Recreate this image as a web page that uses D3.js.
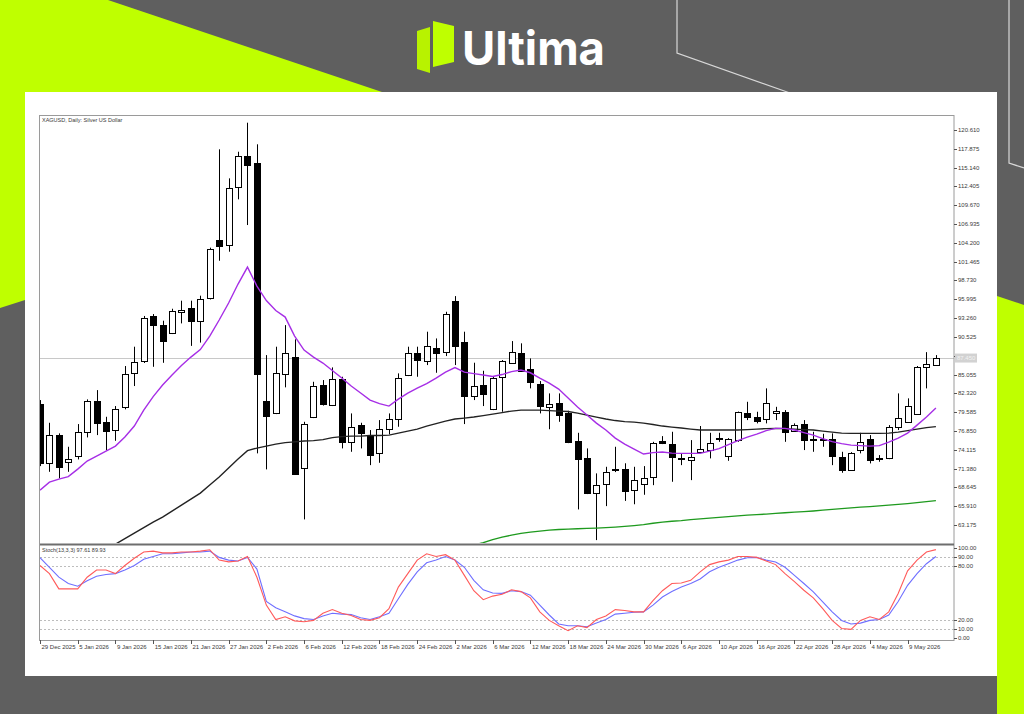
<!DOCTYPE html>
<html lang="en">
<head>
<meta charset="UTF-8">
<title>XAGUSD Daily</title>
<script src="https://d3js.org/d3.v7.min.js"></script>
<style>
  body { margin: 0; background: #5f5f5f; }
  svg { display: block; }
  .lbl { font-family: "Liberation Sans", Arial, sans-serif; font-size: 6px; fill: #3a3a3a; }
</style>
</head>
<body>
<svg width="1024" height="714"></svg>
<script>
// ---- data ----
const xLabels = ['29 Dec 2025','5 Jan 2026','9 Jan 2026','15 Jan 2026','21 Jan 2026','27 Jan 2026',
  '2 Feb 2026','6 Feb 2026','12 Feb 2026','18 Feb 2026','24 Feb 2026','2 Mar 2026','6 Mar 2026',
  '12 Mar 2026','18 Mar 2026','24 Mar 2026','30 Mar 2026','6 Apr 2026','10 Apr 2026','16 Apr 2026',
  '22 Apr 2026','28 Apr 2026','4 May 2026','9 May 2026'];
const labelEvery = 4; // one date label every 4 bars

const priceTicks = ['120.610','117.875','115.140','112.405','109.670','106.935','104.200','101.465',
  '98.730','95.995','93.260','90.525','87.790','85.055','82.320','79.585','76.850','74.115',
  '71.380','68.645','65.910','63.175'];
const stochTicks = ['100.00','90.00','80.00','20.00','10.00','0.00'];
const stochLevels = [90, 80, 20, 10];
const lastPrice = 87.45;

const opens = [80.76,72.18,76.25,72.28,73.19,76.73,81.24,78.18,76.87,80.28,
  85.37,86.92,93.61,92.30,91.09,94.19,94.67,92.88,96.19,104.61,
  103.88,112.27,116.83,115.85,81.24,79.40,85.12,87.64,71.40,78.82,
  83.52,80.61,84.35,75.27,77.70,76.10,73.59,77.12,78.58,84.98,
  88.22,87.06,88.95,88.37,95.78,89.82,81.92,83.52,79.99,84.73,
  86.82,88.22,85.80,83.62,80.36,80.86,79.40,75.37,72.86,67.77,
  69.22,71.30,71.30,68.25,69.12,70.18,75.37,74.94,72.90,72.71,
  73.67,74.07,75.85,73.19,75.52,79.49,78.91,78.53,79.40,79.64,
  76.83,77.80,75.66,75.66,75.62,73.09,71.26,74.17,75.62,72.90,
  72.86,77.37,78.18,79.40,86.18,86.43];
const highs = [81.34,78.04,76.50,74.55,77.85,81.44,82.79,78.91,80.47,86.29,
  89.10,93.57,93.85,92.88,94.62,95.79,95.79,96.52,103.50,117.80,
  113.58,117.45,121.67,118.53,87.88,89.10,92.24,90.17,78.18,84.00,
  84.25,86.09,84.73,79.40,78.04,76.98,78.43,79.40,85.22,89.10,
  89.10,91.28,90.30,94.18,96.46,91.28,86.77,85.60,84.73,87.16,
  89.92,89.59,87.40,84.10,82.31,82.31,79.78,76.58,74.31,70.68,
  71.64,74.55,72.15,71.64,71.74,75.27,76.10,76.73,73.59,75.52,
  77.57,76.58,76.58,75.81,79.67,81.09,79.64,83.04,80.36,79.88,
  77.95,78.43,76.73,76.44,76.50,73.82,73.77,76.58,76.25,73.34,
  77.70,82.31,81.59,86.29,88.31,87.88];
const lows = [71.74,70.91,69.95,70.91,72.71,75.91,76.25,74.07,75.42,79.99,
  83.38,86.73,86.18,86.76,90.94,92.49,89.22,89.70,95.97,101.60,
  102.91,110.53,106.79,73.59,71.26,79.30,83.19,70.58,63.99,78.72,
  80.54,80.47,74.31,73.82,74.31,71.88,72.22,76.39,77.46,84.83,
  84.73,86.43,85.31,87.74,86.43,77.85,81.34,80.47,79.88,79.64,
  86.73,85.48,83.04,79.40,77.10,78.18,75.08,65.44,67.67,60.98,
  65.92,70.87,66.68,66.19,67.57,68.97,74.94,69.46,71.88,69.70,
  73.62,72.86,75.27,72.51,75.27,78.43,77.95,77.95,78.43,75.27,
  76.73,74.07,73.82,74.55,71.88,70.77,71.16,73.59,72.13,72.37,
  72.75,76.98,78.14,79.30,83.04,86.36];
const closes = [72.18,76.25,71.55,72.71,76.64,81.24,78.10,76.87,79.99,85.12,
  86.92,93.23,92.30,89.97,94.23,94.44,92.78,96.04,103.32,103.74,
  112.13,116.83,115.52,85.22,79.06,85.22,88.22,70.68,77.85,83.38,
  80.76,84.35,75.19,77.46,76.58,73.34,77.08,78.53,84.58,88.22,
  87.26,89.24,88.22,93.85,89.24,81.92,83.38,82.21,84.49,87.02,
  88.37,85.60,83.86,80.47,80.76,79.16,75.19,72.75,67.77,68.97,
  70.91,71.16,68.04,69.71,70.04,75.13,75.04,73.01,72.81,73.09,
  74.17,75.13,75.76,75.62,79.55,78.91,78.33,80.86,79.74,76.73,
  77.70,75.42,75.57,75.57,73.09,71.26,73.67,75.27,72.61,72.81,
  77.37,78.68,80.47,86.18,86.57,87.45];

// moving averages (purple fast, black mid, green slow)
const maFast = [68.25,69.41,69.85,70.21,71.30,72.47,73.19,73.92,74.65,75.96,
  77.56,79.88,81.85,83.52,84.98,86.36,87.59,88.68,90.65,92.98,
  95.45,98.21,100.68,97.92,95.81,94.36,93.41,90.65,88.61,87.59,
  86.72,85.63,84.54,83.38,82.36,81.34,80.83,80.47,81.48,82.36,
  83.08,83.74,84.54,85.41,86.07,85.41,85.19,84.98,84.76,85.05,
  85.48,85.70,85.31,84.54,83.81,82.94,81.63,80.32,79.16,77.99,
  76.98,75.81,74.94,74.21,73.49,73.70,73.78,73.63,73.59,73.59,
  73.59,73.92,74.29,74.87,75.45,75.96,76.39,76.90,77.22,77.22,
  76.98,76.61,76.25,75.74,75.30,75.01,74.79,74.72,74.65,74.72,
  75.23,75.81,76.54,77.70,78.87,80.18];
const maMid = [null,null,null,null,null,null,null,59.60,
  60.39,61.19,61.99,62.79,63.59,64.32,65.19,66.07,66.94,67.81,
  68.98,70.14,71.45,72.76,73.99,74.36,74.65,74.94,75.16,75.26,
  75.38,75.45,75.59,75.88,76.03,76.10,76.10,76.18,76.18,76.25,
  76.54,76.83,77.12,77.56,77.92,78.28,78.58,78.72,78.87,79.08,
  79.30,79.52,79.74,79.88,79.88,79.88,79.81,79.74,79.67,79.45,
  79.16,78.87,78.58,78.36,78.21,78.14,77.99,77.78,77.56,77.41,
  77.27,77.12,76.98,76.98,76.98,76.98,76.98,77.05,77.12,77.19,
  77.22,77.19,77.12,77.05,76.98,76.83,76.68,76.54,76.50,76.50,
  76.50,76.50,76.54,76.68,76.90,77.12,77.34,77.48];
const maSlow = [null,null,null,null,null,null,null,null,null,null,
  null,null,null,null,null,null,null,null,null,null,
  null,null,null,null,null,null,null,null,null,null,
  null,null,null,null,null,null,null,null,null,null,
  null,null,null,null,null,null,
  60.25,60.61,61.05,61.41,61.70,61.95,62.14,62.29,62.43,62.53,
  62.58,62.62,62.68,62.72,62.79,62.87,62.97,63.09,63.23,63.42,
  63.59,63.71,63.81,63.96,64.06,64.18,64.28,64.39,64.50,64.61,
  64.69,64.76,64.86,64.95,65.05,65.12,65.22,65.34,65.44,65.56,
  65.66,65.78,65.85,65.95,66.07,66.18,66.29,66.43,66.58,66.72];

// stochastic (13,3,3): main (red) and signal (blue)
const stochMain = [80,71,54,54,54,67,75,75,71,80,
  88,95,96,94,94,95,95,96,97.5,86,
  84,85,90,67,36,20,23,18.5,17.5,19,
  27,31,27,24.5,20,19,22,32,56,71,
  86,93,90,92,86,69,52,42,46,48,
  53,51,44,28.5,19,13,7.5,13,11,20,
  24,31,30,28.5,28.5,41,52,60,60.5,63.5,
  73,81,84,86,90,90,89,85,81,71,
  62,52.5,44,32,19,10,9,19,23,20,
  28.5,49,74,86,95,97.61];
const stochSignal = [88.6,78,67,60,57,63,68,70,71,75,
  80,87,90,93,93,94,95,95,96,89,
  86,85,89,76,40,33,28.5,24,21,20,
  24,27,26,25.5,22,20,23,27,43,59,
  73,83,86,90,86,78,63.5,53,49.5,49,
  52,51,47,36,25,15,13,13,12,16,
  20,26,27,28,28.5,36,45,51,56,60,
  65,73,78,82,86,88.6,89,86,84,78,
  69,60,50.6,39.6,28.5,19,15,16,19,20,
  25,40,58,71,82,89.93];

// ---- page frame ----
const svg = d3.select('svg');
svg.append('rect').attr('width', 1024).attr('height', 714).attr('fill', '#5f5f5f');
svg.append('polygon').attr('points', '0,0 108,0 382,92 382,300 25,300 0,308').attr('fill', '#bfff00');
svg.append('polygon').attr('points', '997,296 1024,305 1024,714 997,714').attr('fill', '#bfff00');
svg.append('polyline').attr('points', '677,0 677,53 790,93')
  .attr('fill', 'none').attr('stroke', '#d8d8d8').attr('stroke-width', 1.2);
svg.append('polyline').attr('points', '1009,0 1009,163 1024,168')
  .attr('fill', 'none').attr('stroke', '#d8d8d8').attr('stroke-width', 1.2);

// logo
svg.append('polygon').attr('points', '417,31 430,27 430,73 417,69').attr('fill', '#b8f200');
svg.append('polygon').attr('points', '433,21 454,26 454,62 433,67').attr('fill', '#bfff00');
svg.append('text').attr('x', 462).attr('y', 65)
  .attr('font-family', 'Inter, "Open Sans", sans-serif').attr('font-weight', 700)
  .attr('font-size', 47).attr('fill', '#ffffff')
  .attr('textLength', 143).attr('lengthAdjust', 'spacingAndGlyphs')
  .text('Ultima');

// white card
svg.append('rect').attr('x', 25).attr('y', 92).attr('width', 972).attr('height', 584).attr('fill', '#ffffff');

// ---- chart geometry ----
const left = 40, right = 954;
const mainTop = 115, mainBottom = 544, stochTop = 545, stochBottom = 640;
const x = d3.scaleLinear().domain([0, 95]).range([40, 935.9]);
const y = d3.scaleLinear().domain([+priceTicks[priceTicks.length - 1], +priceTicks[0]]).range([525, 130]);
const ys = d3.scaleLinear().domain([0, 100]).range([637.5, 547.5]);

const defs = svg.append('defs');
defs.append('clipPath').attr('id', 'clipMain')
  .append('rect').attr('x', left).attr('y', mainTop + 1).attr('width', right - left).attr('height', mainBottom - mainTop - 2);
defs.append('clipPath').attr('id', 'clipStoch')
  .append('rect').attr('x', left).attr('y', stochTop + 1).attr('width', right - left).attr('height', stochBottom - stochTop - 2);

// current price line
svg.append('line').attr('x1', left).attr('x2', right)
  .attr('y1', Math.round(y(lastPrice)) + 0.5).attr('y2', Math.round(y(lastPrice)) + 0.5)
  .attr('stroke', '#c8c8c8').attr('stroke-width', 1);

// candles
const main = svg.append('g').attr('clip-path', 'url(#clipMain)');
const bars = d3.range(opens.length);
const cg = main.selectAll('g.candle').data(bars).enter().append('g').attr('class', 'candle');
cg.append('line')
  .attr('x1', i => Math.round(x(i)) + 0.5).attr('x2', i => Math.round(x(i)) + 0.5)
  .attr('y1', i => y(highs[i])).attr('y2', i => y(lows[i]))
  .attr('stroke', '#000').attr('stroke-width', 1);
cg.append('rect')
  .attr('x', i => Math.round(x(i)) - 2.5)
  .attr('width', 6)
  .attr('y', i => Math.round(y(Math.max(opens[i], closes[i]))) + 0.5)
  .attr('height', i => Math.max(0.01, Math.round(Math.abs(y(opens[i]) - y(closes[i])))))
  .attr('fill', i => closes[i] >= opens[i] ? '#fff' : '#000')
  .attr('stroke', '#000').attr('stroke-width', 1);

// moving averages
const maLine = d3.line().defined(d => d != null).x((d, i) => x(i)).y(d => y(d));
main.append('path').attr('d', maLine(maSlow)).attr('fill', 'none').attr('stroke', '#1e9a1e').attr('stroke-width', 1.4);
main.append('path').attr('d', maLine(maMid)).attr('fill', 'none').attr('stroke', '#222').attr('stroke-width', 1.4);
main.append('path').attr('d', maLine(maFast)).attr('fill', 'none').attr('stroke', '#a62ee6').attr('stroke-width', 1.4);

// stochastic pane
const st = svg.append('g').attr('clip-path', 'url(#clipStoch)');
st.selectAll('line.lvl').data(stochLevels).enter().append('line')
  .attr('x1', left).attr('x2', right)
  .attr('y1', d => Math.round(ys(d)) + 0.5).attr('y2', d => Math.round(ys(d)) + 0.5)
  .attr('stroke', '#bdbdbd').attr('stroke-dasharray', '2,2').attr('stroke-width', 1);
const stLine = d3.line().x((d, i) => x(i)).y(d => ys(d));
st.append('path').attr('d', stLine(stochSignal)).attr('fill', 'none').attr('stroke', '#6f6fff').attr('stroke-width', 1.1);
st.append('path').attr('d', stLine(stochMain)).attr('fill', 'none').attr('stroke', '#ff5a5a').attr('stroke-width', 1.1);

// frames
svg.append('rect').attr('x', left - 0.5).attr('y', mainTop + 0.5)
  .attr('width', right - left + 0.5).attr('height', stochBottom - mainTop)
  .attr('fill', 'none').attr('stroke', '#9a9a9a').attr('stroke-width', 1);
svg.append('line').attr('x1', left).attr('x2', right).attr('y1', 544.5).attr('y2', 544.5)
  .attr('stroke', '#6e6e6e').attr('stroke-width', 2);

// price axis (the tick label under the last-price marker is hidden, as on the terminal)
const visibleTicks = priceTicks.filter(d => Math.abs(y(+d) - y(lastPrice)) > 6);
svg.selectAll('line.ptick').data(priceTicks).enter().append('line')
  .attr('x1', right).attr('x2', right + 3)
  .attr('y1', d => Math.round(y(+d)) + 0.5).attr('y2', d => Math.round(y(+d)) + 0.5)
  .attr('stroke', '#555');
svg.selectAll('text.plabel').data(visibleTicks).enter().append('text')
  .attr('class', 'lbl').attr('x', right + 4).attr('y', d => y(+d) + 2).text(d => d);

// last price marker
svg.append('rect').attr('x', right + 1).attr('y', y(lastPrice) - 4.5).attr('width', 22).attr('height', 9)
  .attr('fill', '#d2d2d2');
svg.append('text').attr('class', 'lbl').attr('x', right + 3).attr('y', y(lastPrice) + 2)
  .style('fill', '#f2f2f2').text(lastPrice.toFixed(3));

// stochastic axis
svg.selectAll('line.stick').data(stochTicks).enter().append('line')
  .attr('x1', right).attr('x2', right + 3)
  .attr('y1', d => Math.round(ys(+d)) + 0.5).attr('y2', d => Math.round(ys(+d)) + 0.5)
  .attr('stroke', '#555');
svg.selectAll('text.slabel').data(stochTicks).enter().append('text')
  .attr('class', 'lbl').attr('x', right + 4).attr('y', d => ys(+d) + 2).text(d => d);

// time axis
svg.selectAll('line.xtick').data(xLabels).enter().append('line')
  .attr('x1', (d, i) => Math.round(x(i * labelEvery)) + 0.5).attr('x2', (d, i) => Math.round(x(i * labelEvery)) + 0.5)
  .attr('y1', stochBottom).attr('y2', stochBottom + 4)
  .attr('stroke', '#555');
svg.selectAll('text.xlabel').data(xLabels).enter().append('text')
  .attr('class', 'lbl').attr('x', (d, i) => x(i * labelEvery) + 1.5).attr('y', stochBottom + 9)
  .text(d => d);

// captions
svg.append('text').attr('class', 'lbl').attr('x', 42).attr('y', 122).style('font-size', '5.5px')
  .text('XAGUSD, Daily:  Silver US Dollar');
svg.append('text').attr('class', 'lbl').attr('x', 42).attr('y', 552).style('font-size', '5.5px')
  .text('Stoch(13,3,3) ' + stochMain[stochMain.length - 1].toFixed(2) + ' ' + stochSignal[stochSignal.length - 1].toFixed(2));
</script>
</body>
</html>
